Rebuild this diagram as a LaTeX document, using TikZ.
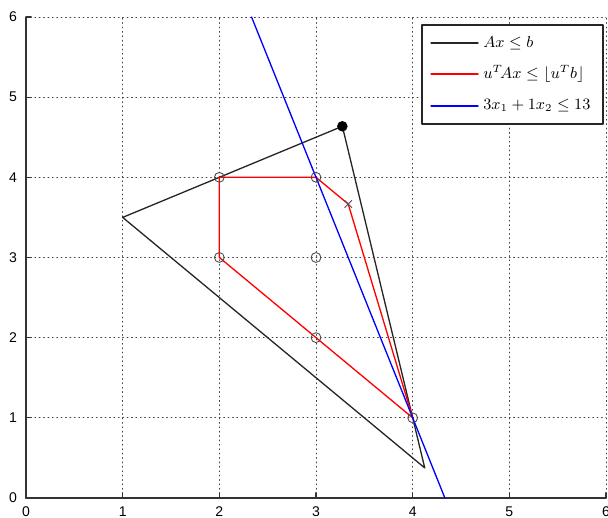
\documentclass[tikz,border=0pt]{standalone}
\usepackage{fontspec}
\usepackage{amsmath,amssymb}
\usepackage{tikz}
\usetikzlibrary{arrows.meta}
\newfontfamily\ticksf{Liberation Sans}

\begin{document}
\begin{tikzpicture}[x=1.9333cm,y=1.6033cm,line join=round,line cap=round,
    gridline/.style={dotted,black!75,line width=0.5pt},
    tickline/.style={black!80,line width=0.6pt},
    ticklabel/.style={font=\ticksf\fontsize{8}{9}\selectfont,inner sep=0pt},
    ptmark/.style={black!70,line width=0.5pt},
    polyline/.style={line width=0.75pt}]
      \useasboundingbox (-0.269,-0.2495) rectangle (6.0207,6.212);

      \foreach \i in {1,...,6} {
        \draw[gridline] (\i,0)--(\i,6);
        \draw[gridline] (0,\i)--(6,\i);
      }
      \draw[tickline] (0,6)--(0,0)--(6,0);
      \foreach \i in {0,...,6} {
        \draw[tickline] (\i,0)--++(0,3pt);
        \draw[tickline] (0,\i)--++(3pt,0);
        \node[ticklabel,anchor=north] (xt\i) at ([yshift=-5pt]\i,0) {\i};
        \node[ticklabel,anchor=east] (yt\i) at ([xshift=-5pt]0,\i) {\i};
      }

      \coordinate (L) at (1, 3.5);
      \coordinate (T) at (3.2727, 4.6364);
      \coordinate (R) at (4.125, 0.375);
      \coordinate (Q24) at (2, 4);
      \coordinate (Q34) at (3, 4);
      \coordinate (Q23) at (2, 3);
      \coordinate (Q33) at (3, 3);
      \coordinate (Q32) at (3, 2);
      \coordinate (Q41) at (4, 1);
      \coordinate (V) at (3.3333, 3.6667);
      \coordinate (B0) at (2.3333, 6);
      \coordinate (B1) at (4.3333, 0);

      \draw[polyline,black!85] (L)--(T)--(R)--cycle;
      \draw[polyline,red] (Q24)--(Q34)--(V)--(Q41)--(Q32)--(Q23)--cycle;
      \draw[polyline,blue] (B0)--(B1);

      \foreach \p in {Q24,Q34,Q23,Q33,Q32,Q41}
        \draw[ptmark] (\p) circle[radius=2.8pt];
      \fill[black] (T) circle[radius=3pt];
      \draw[ptmark] ([shift={(-2pt,-2pt)}]V)--([shift={(2pt,2pt)}]V)
                    ([shift={(-2pt,2pt)}]V)--([shift={(2pt,-2pt)}]V);

      \draw[fill=white,draw=black!85,line width=0.8pt] (4.096,4.665) rectangle (5.969,5.90);
      \draw[polyline,black!85] (4.19,5.675)--(4.676,5.675);
      \draw[polyline,red] (4.19,5.289)--(4.676,5.289);
      \draw[polyline,blue] (4.19,4.89)--(4.676,4.89);
      \node[anchor=west,inner sep=0pt,font=\small] (lgA) at (4.727,5.675) {$Ax\leq b$};
      \node[anchor=west,inner sep=0pt,font=\small] (lgU) at (4.727,5.289) {$u^T\!Ax\leq\lfloor u^T b\rfloor$};
      \node[anchor=west,inner sep=0pt,font=\small] (lgC) at (4.727,4.89) {$3x_1+1x_2\leq 13$};
    \end{tikzpicture}
\end{document}
